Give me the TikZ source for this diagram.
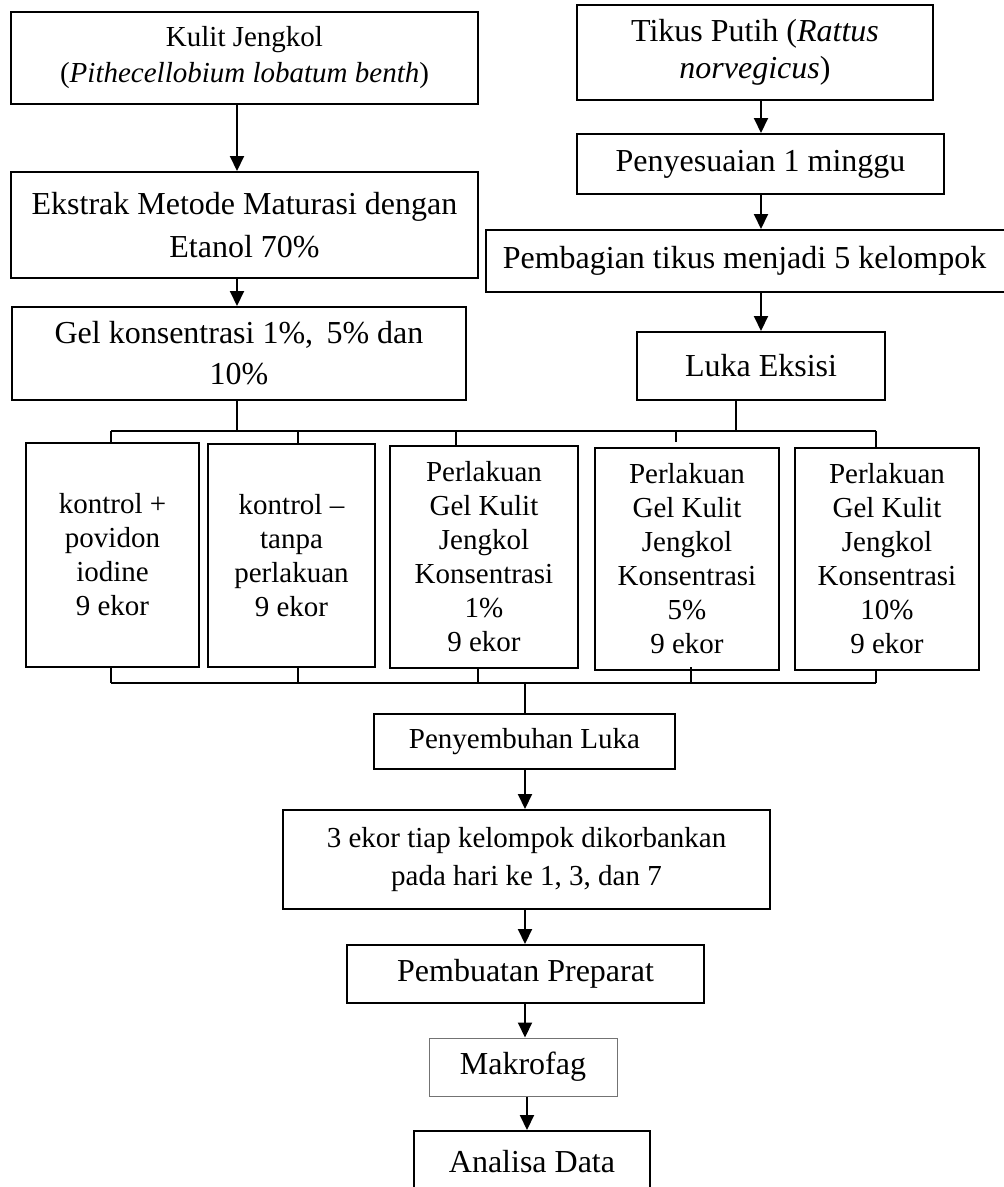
\documentclass[tikz,border=0pt]{standalone}
\usepackage{fontspec}
\setmainfont{Liberation Serif}
\usetikzlibrary{arrows.meta}

\begin{document}
\begin{tikzpicture}[x=1pt, y=-1pt,
    box/.style={draw, line width=2pt, align=center, inner sep=0pt, font=\fontsize{32}{36}\selectfont},
    sbox/.style={box, font=\fontsize{29}{34}\selectfont},
    arr/.style={line width=2pt, -{Triangle[width=14pt,length=15pt]}},
    conn/.style={line width=1.3pt}]
    \useasboundingbox (0,0) rectangle (1004,1187);

    \node[sbox, font=\fontsize{29}{36}\selectfont, minimum width=467pt, minimum height=92pt] (kulit) at (244.5,58) {Kulit Jengkol\\(\textit{Pithecellobium lobatum benth})};
    \node[box, font=\fontsize{32}{43}\selectfont, minimum width=467pt, minimum height=106pt] (ekstrak) at (244.5,225) {Ekstrak Metode Maturasi dengan\\Etanol 70\%};
    \node[box, font=\fontsize{32}{41}\selectfont, minimum width=454pt, minimum height=93pt] (gel) at (239,353.5) {Gel konsentrasi 1\%, \,5\% dan\\10\%};

    \node[box, font=\fontsize{32}{37}\selectfont, minimum width=356pt, minimum height=95pt] (tikus) at (755,52.5) {Tikus Putih (\textit{Rattus}\\\textit{norvegicus})};
    \node[box, minimum width=367pt, minimum height=60pt] (sesuai) at (760.5,164) {Penyesuaian 1 minggu};
    \node[box, minimum width=524pt, minimum height=62pt] (bagi) at (748,261) {\hspace*{-7pt}Pembagian tikus menjadi 5 kelompok};
    \node[box, minimum width=248pt, minimum height=68pt] (eksisi) at (761,366) {Luka Eksisi};

    \node[sbox, minimum width=173pt, minimum height=224pt] (g1) at (112.5,555) {kontrol +\\povidon\\iodine\\9 ekor};
    \node[sbox, minimum width=167pt, minimum height=223pt] (g2) at (291.5,555.5) {kontrol --\\tanpa\\perlakuan\\9 ekor};
    \node[sbox, minimum width=188pt, minimum height=222pt] (g3) at (484,557) {Perlakuan\\Gel Kulit\\Jengkol\\Konsentrasi\\1\%\\9 ekor};
    \node[sbox, minimum width=184pt, minimum height=222pt] (g4) at (687,559) {Perlakuan\\Gel Kulit\\Jengkol\\Konsentrasi\\5\%\\9 ekor};
    \node[sbox, minimum width=184pt, minimum height=222pt] (g5) at (887,559) {Perlakuan\\Gel Kulit\\Jengkol\\Konsentrasi\\10\%\\9 ekor};

    \node[sbox, minimum width=301pt, minimum height=55pt] (sembuh) at (524.5,741.5) {Penyembuhan Luka};
    \node[sbox, font=\fontsize{29}{38}\selectfont, minimum width=487pt, minimum height=99pt] (korban) at (526.5,859.5) {3 ekor tiap kelompok dikorbankan\\pada hari ke 1, 3, dan 7};
    \node[box, minimum width=357pt, minimum height=58pt] (preparat) at (525.5,974) {Pembuatan Preparat};
    \node[box, draw=black!55, line width=1pt, minimum width=188pt, minimum height=58pt] (makrofag) at (523,1067) {Makrofag};
    \node[box, minimum width=236pt, minimum height=62pt] (analisa) at (532,1162) {Analisa Data};

    \coordinate (lx) at (237,0);
    \coordinate (rx) at (761,0);
    \coordinate (ex) at (736,0);
    \coordinate (mx) at (525,0);
    \coordinate (topL) at (111,431);
    \coordinate (topR) at (876,431);
    \coordinate (botL) at (111,683);
    \coordinate (botR) at (876,683);

    \draw[arr] (lx |- kulit.south) -- (lx |- ekstrak.north);
    \draw[arr] (lx |- ekstrak.south) -- (lx |- gel.north);
    \draw[arr] (rx |- tikus.south) -- (rx |- sesuai.north);
    \draw[arr] (rx |- sesuai.south) -- (rx |- bagi.north);
    \draw[arr] (rx |- bagi.south) -- (rx |- eksisi.north);

    \draw[conn] (lx |- gel.south) -- (lx |- topL);
    \draw[conn] (ex |- eksisi.south) -- (ex |- topL);
    \draw[conn] (topL) -- (topR);
    \foreach \x/\n in {111/g1, 298/g2, 456/g3, 876/g5}
        \draw[conn] (\x,431) coordinate (d) -- (d |- \n.north);
    \draw[conn] (676,431) -- ++(0,11);

    \draw[conn] (botL) -- (botR);
    \foreach \x/\n in {111/g1, 298/g2, 478/g3, 876/g5}
        \draw[conn] (\x,683) coordinate (d) -- (d |- \n.south);
    \draw[conn] (691,683) -- ++(0,-16);
    \draw[conn] (mx |- botL) -- (mx |- sembuh.north);

    \draw[arr] (mx |- sembuh.south) -- (mx |- korban.north);
    \draw[arr] (mx |- korban.south) -- (mx |- preparat.north);
    \draw[arr] (mx |- preparat.south) -- (mx |- makrofag.north);
    \draw[arr] (527,0 |- makrofag.south) -- (527,0 |- analisa.north);
\end{tikzpicture}
\end{document}
